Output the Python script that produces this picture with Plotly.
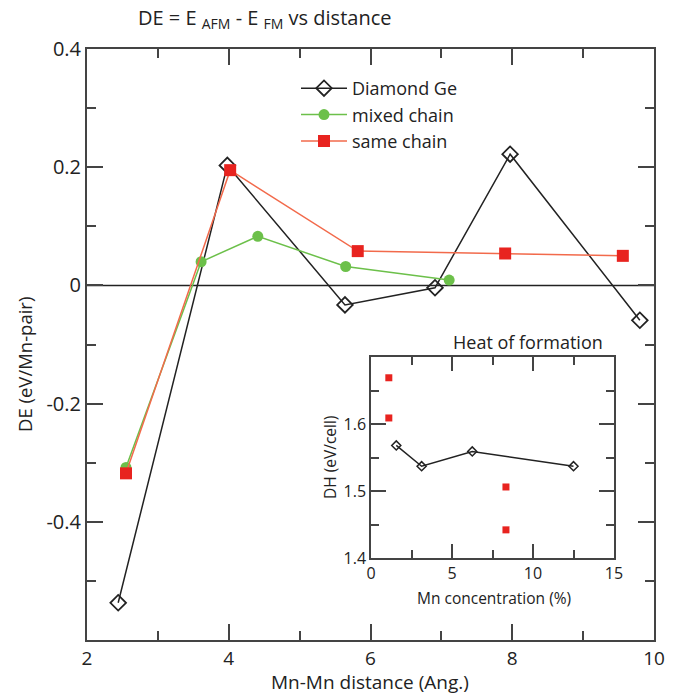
import plotly.graph_objects as go

# Main panel data: Mn-Mn distance (Ang.) vs DE (eV/Mn-pair)
diamond_x = [2.44, 3.98, 5.64, 6.91, 7.97, 9.80]
diamond_y = [-0.537, 0.203, -0.033, -0.004, 0.222, -0.059]
mixed_x = [2.55, 3.61, 4.41, 5.65, 7.11]
mixed_y = [-0.308, 0.040, 0.083, 0.032, 0.009]
same_x = [2.55, 4.02, 5.82, 7.90, 9.56]
same_y = [-0.318, 0.195, 0.058, 0.054, 0.050]

# Inset data: Mn concentration (%) vs DH (eV/cell)
inset_dia_x = [1.56, 3.125, 6.25, 12.5]
inset_dia_y = [1.568, 1.537, 1.559, 1.537]
inset_red_x = [1.1, 1.1, 8.33, 8.33]
inset_red_y = [1.669, 1.609, 1.506, 1.442]

main_xticks = [2, 4, 6, 8, 10]
main_yticks = [-0.4, -0.2, 0, 0.2, 0.4]
main_yticklabels = ["-0.4", "-0.2", "0", "0.2", "0.4"]
inset_xticks = [0, 5, 10, 15]
inset_yticks = [1.4, 1.5, 1.6]

FONT = "Open Sans"
AX = "#444444"
GREEN = "#6cc04a"
RED = "#e8231f"
REDLINE = "#f26a4b"

fig = go.Figure()
fig.add_trace(go.Scatter(x=diamond_x, y=diamond_y, mode="lines+markers", name="Diamond Ge",
                         line=dict(color="#222222", width=1.5),
                         marker=dict(symbol="diamond-open", size=12, color="#222222", line=dict(width=1.8))))
fig.add_trace(go.Scatter(x=mixed_x, y=mixed_y, mode="lines+markers", name="mixed chain",
                         line=dict(color=GREEN, width=1.5),
                         marker=dict(symbol="circle", size=11, color=GREEN)))
fig.add_trace(go.Scatter(x=same_x, y=same_y, mode="lines+markers", name="same chain",
                         line=dict(color=REDLINE, width=1.5),
                         marker=dict(symbol="square", size=12, color=RED)))
fig.add_trace(go.Scatter(x=inset_dia_x, y=inset_dia_y, mode="lines+markers", showlegend=False,
                         xaxis="x2", yaxis="y2",
                         line=dict(color="#222222", width=1.5),
                         marker=dict(symbol="diamond-open", size=7, color="#222222", line=dict(width=1.5))))
fig.add_trace(go.Scatter(x=inset_red_x, y=inset_red_y, mode="markers", showlegend=False,
                         xaxis="x2", yaxis="y2",
                         marker=dict(symbol="square", size=7, color=RED)))

W, H = 681, 694
L, T = 87, 49
R = W - 654
B = H - 640
pw, ph = W - L - R, H - T - B

def px(xp):
    return (xp - L) / pw

def py(yp):
    return (H - B - yp) / ph

base = dict(showline=True, linecolor=AX, mirror="ticks", ticks="inside",
            tickcolor=AX, showgrid=False, zeroline=False)

fig.update_layout(
    width=W, height=H, margin=dict(l=L, r=R, t=T, b=B),
    plot_bgcolor="white", paper_bgcolor="white",
    font=dict(family=FONT, color="#222"),
    xaxis=dict(range=[2, 10], tickvals=main_xticks, ticklen=16, tickwidth=2, linewidth=2,
               tickfont=dict(family=FONT, size=19, color="#222"), ticklabelstandoff=0,
               minor=dict(ticks="inside", dtick=1, ticklen=9, tickcolor=AX, tickwidth=2), **base),
    yaxis=dict(range=[-0.6, 0.4], tickvals=main_yticks, ticktext=main_yticklabels,
               ticklen=16, tickwidth=2, linewidth=2,
               tickfont=dict(family=FONT, size=20, color="#222"),
               minor=dict(ticks="inside", dtick=0.1, ticklen=9, tickcolor=AX, tickwidth=2), **base),
    xaxis2=dict(domain=[px(371), px(614)], anchor="y2", range=[0, 15], tickvals=inset_xticks,
                ticklen=14, tickwidth=1.5, linewidth=1.5,
                tickfont=dict(family=FONT, size=16, color="#222"),
                minor=dict(ticks="inside", dtick=2.5, ticklen=8, tickcolor=AX, tickwidth=1.5), **base),
    yaxis2=dict(domain=[py(558), py(357)], anchor="x2", range=[1.4, 1.7], tickvals=inset_yticks,
                ticklen=15, tickwidth=1.5, linewidth=1.5,
                tickfont=dict(family=FONT, size=16, color="#222"),
                minor=dict(ticks="inside", dtick=0.05, ticklen=8, tickcolor=AX, tickwidth=1.5), **base),
    legend=dict(x=px(296), y=py(70), xanchor="left", yanchor="top", bgcolor="rgba(0,0,0,0)",
                font=dict(family=FONT, size=18, color="#222"), itemwidth=46, tracegroupgap=0),
    showlegend=True,
    shapes=[dict(type="line", xref="x", yref="y", x0=2, x1=10, y0=0, y1=0,
                 line=dict(color="#222", width=1.5), layer="below")],
)

ann = [
    dict(text="DE = E <sub>AFM</sub> - E <sub>FM</sub> vs distance", x=px(136), y=py(18),
         xanchor="left", yanchor="middle", size=20),
    dict(text="Mn-Mn distance (Ang.)", x=px(370), y=py(682), xanchor="center", yanchor="middle",
         size=19),
    dict(text="DE (eV/Mn-pair)", x=px(24), y=py(365), xanchor="center", yanchor="middle",
         textangle=-90, size=18.5),
    dict(text="Heat of formation", x=px(528), y=py(342), xanchor="center", yanchor="middle",
         size=18),
    dict(text="Mn concentration (%)", x=px(494), y=py(598), xanchor="center", yanchor="middle",
         size=15.5),
    dict(text="DH (eV/cell)", x=px(330), y=py(458), xanchor="center", yanchor="middle",
         textangle=-90, size=15.5),
]
for a in ann:
    s = a.pop("size")
    a.update(xref="paper", yref="paper", showarrow=False,
             font=dict(family=FONT, color="#222", size=s))
fig.update_layout(annotations=ann)

fig.write_html("out.html", config={"displayModeBar": False},
               post_script="document.body.style.margin='0px';")
